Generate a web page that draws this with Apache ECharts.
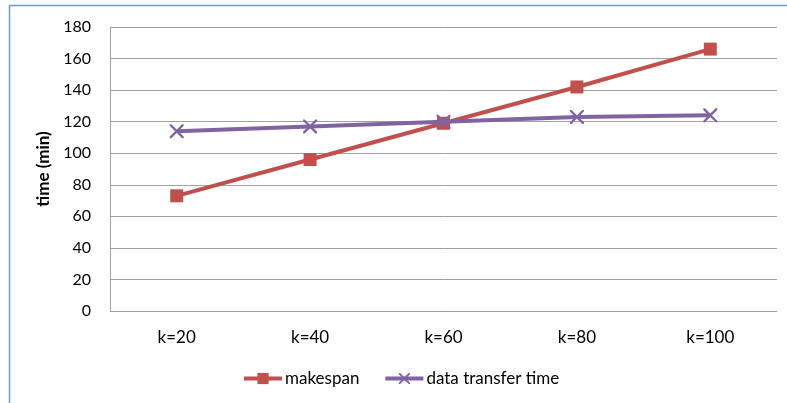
<!DOCTYPE html>
<html>
<head>
<meta charset="utf-8">
<script src="https://cdn.jsdelivr.net/npm/echarts@6/dist/echarts.min.js"></script>
<style>
  html, body { margin: 0; padding: 0; background: #ffffff; }
  #chart { width: 787px; height: 403px; }
</style>
</head>
<body>
<div id="chart"></div>
<script>
// Categories (number of partitions k) and the measured times in minutes
const categories = ['k=20', 'k=40', 'k=60', 'k=80', 'k=100'];
const makespan = [73, 96, 119, 142, 166];
const dataTransferTime = [114, 117, 120, 123, 124];
const seriesNames = ['makespan', 'data transfer time'];
const yAxisTitle = 'time (min)';

const FONT = 'Lato, "Open Sans", sans-serif';
const RED = '#c0504d';
const PURPLE = '#8064a2';
const GRID_GRAY = '#a0a0a0';

// Thin "x" marker built from two filled diagonal bars
const crossSymbol = 'path://M0,0L1.2,0L10,8.8L10,10L8.8,10L0,1.2Z M8.8,0L10,0L10,1.2L1.2,10L0,10L0,8.8Z';

const chart = echarts.init(document.getElementById('chart'), null, { renderer: 'canvas' });

chart.setOption({
  backgroundColor: '#ffffff',
  animation: false,
  textStyle: { fontFamily: FONT },
  graphic: [{
    type: 'rect',
    silent: true,
    shape: { x: 9.5, y: 5.5, width: 800, height: 420 },
    style: { fill: null, stroke: '#6f9ad3', lineWidth: 1.5 }
  }],
  grid: { left: 110, right: 10, top: 27, bottom: 92, containLabel: false },
  legend: {
    left: 237,
    top: 365,
    itemWidth: 38,
    itemHeight: 14,
    itemGap: 24,
    lineStyle: { width: 4 },
    textStyle: { fontFamily: FONT, fontSize: 17, color: '#000000', padding: [0, 0, 0, -2] },
    data: seriesNames
  },
  xAxis: {
    type: 'category',
    data: categories,
    boundaryGap: true,
    axisLine: { show: true, lineStyle: { color: GRID_GRAY, width: 1 } },
    axisTick: { show: false },
    axisLabel: { fontFamily: FONT, fontSize: 17, color: '#000000', margin: 18 },
    splitLine: { show: false }
  },
  yAxis: {
    type: 'value',
    min: 0,
    max: 180,
    interval: 20,
    name: yAxisTitle,
    nameLocation: 'middle',
    nameGap: 56,
    nameTextStyle: { fontFamily: FONT, fontSize: 17, fontWeight: 'bold', color: '#000000' },
    axisLine: { show: true, lineStyle: { color: GRID_GRAY, width: 1 } },
    axisTick: { show: false },
    axisLabel: { fontFamily: FONT, fontSize: 16, color: '#000000', margin: 19 },
    splitLine: { show: true, lineStyle: { color: GRID_GRAY, width: 1 } }
  },
  series: [
    {
      name: seriesNames[0],
      type: 'line',
      data: makespan,
      symbol: 'rect',
      symbolSize: 13,
      lineStyle: { color: RED, width: 4 },
      itemStyle: { color: RED },
      z: 2
    },
    {
      name: seriesNames[1],
      type: 'line',
      data: dataTransferTime,
      symbol: crossSymbol,
      symbolSize: 14,
      lineStyle: { color: PURPLE, width: 4 },
      itemStyle: { color: PURPLE },
      z: 3
    }
  ]
});
</script>
</body>
</html>
